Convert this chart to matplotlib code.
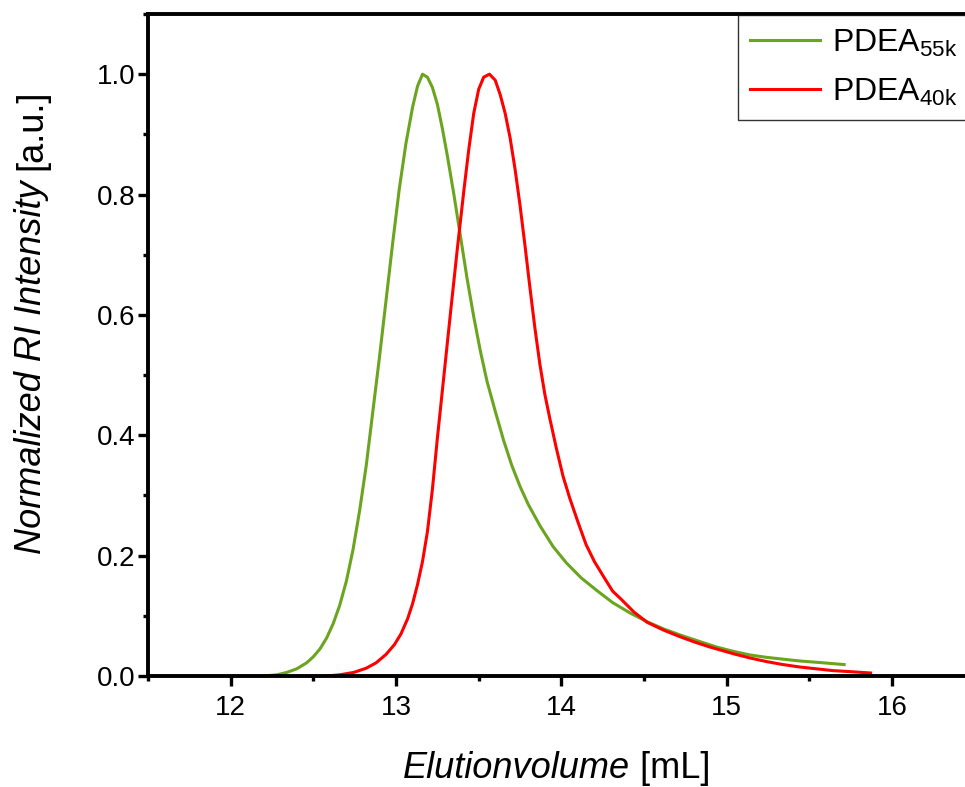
import matplotlib
matplotlib.use("Agg")
import matplotlib.pyplot as plt
from matplotlib.ticker import MultipleLocator
from matplotlib.offsetbox import TextArea, HPacker, VPacker, AnchoredOffsetbox

plt.rcParams['font.family'] = ['Liberation Sans', 'DejaVu Sans']
plt.rcParams['mathtext.fontset'] = 'custom'
plt.rcParams['mathtext.rm'] = 'Liberation Sans'

# elution volume [mL] / normalized RI intensity
v_55k = [12.20, 12.28, 12.34, 12.40, 12.46, 12.50, 12.54, 12.58, 12.62, 12.66,
         12.70, 12.74, 12.78, 12.82, 12.86, 12.90, 12.94, 12.98, 13.02, 13.06,
         13.10, 13.13, 13.16, 13.19, 13.22, 13.25, 13.28, 13.31, 13.35, 13.39,
         13.43, 13.47, 13.51, 13.55, 13.60, 13.65, 13.70, 13.75, 13.80, 13.87,
         13.95, 14.03, 14.12, 14.21, 14.31, 14.42, 14.52, 14.62, 14.73, 14.84,
         14.94, 15.04, 15.14, 15.24, 15.34, 15.44, 15.58, 15.71]
i_55k = [0.000, 0.002, 0.006, 0.012, 0.022, 0.032, 0.045, 0.063, 0.087, 0.118,
         0.158, 0.210, 0.275, 0.350, 0.440, 0.530, 0.625, 0.720, 0.810, 0.885,
         0.945, 0.980, 1.000, 0.995, 0.978, 0.950, 0.910, 0.865, 0.800, 0.730,
         0.660, 0.597, 0.540, 0.490, 0.440, 0.392, 0.350, 0.315, 0.285, 0.250,
         0.215, 0.188, 0.163, 0.143, 0.122, 0.104, 0.090, 0.078, 0.067, 0.057,
         0.048, 0.041, 0.035, 0.031, 0.028, 0.025, 0.022, 0.019]

v_40k = [12.58, 12.66, 12.745, 12.82, 12.88, 12.94, 12.99, 13.03, 13.07, 13.10,
         13.13, 13.16, 13.19, 13.22, 13.25, 13.29, 13.33, 13.37, 13.41, 13.44,
         13.47, 13.50, 13.53, 13.565, 13.60, 13.63, 13.66, 13.69, 13.72, 13.75,
         13.78, 13.81, 13.84, 13.87, 13.90, 13.93, 13.97, 14.01, 14.05, 14.10,
         14.15, 14.20, 14.26, 14.31, 14.36, 14.44, 14.52, 14.62, 14.72, 14.81,
         14.90, 15.04, 15.14, 15.24, 15.34, 15.44, 15.54, 15.64, 15.76, 15.87]
i_40k = [0.000, 0.002, 0.006, 0.013, 0.022, 0.036, 0.052, 0.070, 0.095, 0.120,
         0.152, 0.190, 0.240, 0.310, 0.395, 0.500, 0.605, 0.708, 0.806, 0.875,
         0.935, 0.975, 0.995, 1.000, 0.990, 0.966, 0.935, 0.894, 0.842, 0.782,
         0.715, 0.645, 0.578, 0.518, 0.468, 0.428, 0.378, 0.332, 0.296, 0.256,
         0.218, 0.190, 0.163, 0.141, 0.128, 0.106, 0.089, 0.076, 0.065, 0.056,
         0.048, 0.037, 0.030, 0.024, 0.019, 0.015, 0.012, 0.009, 0.007, 0.005]

fig = plt.figure(figsize=(9.65, 7.87), dpi=100)
# right edge of the axes lies past the image border, as in the original
ax = fig.add_axes([148/965, 1-676/787, (974.75-148)/965, (676-14)/787])

ax.plot(v_55k, i_55k, color='#6ba51f', lw=2.2, label=r'PDEA$_{\mathregular{55k}}$')
ax.plot(v_40k, i_40k, color='#ff0000', lw=2.2, label=r'PDEA$_{\mathregular{40k}}$')

ax.set_xlim(11.5, 16.5)
ax.set_ylim(0, 1.1)
ax.set_xticks([12, 13, 14, 15, 16])
ax.set_yticks([0.0, 0.2, 0.4, 0.6, 0.8, 1.0])
ax.xaxis.set_minor_locator(MultipleLocator(0.5))
ax.yaxis.set_minor_locator(MultipleLocator(0.1))

for s in ax.spines.values():
    s.set_linewidth(2.8)
ax.tick_params(which='major', direction='out', length=7, width=2.4, labelsize=20)
ax.tick_params(which='minor', direction='out', length=3.5, width=2.4)
ax.tick_params(axis='x', which='major', pad=7)
ax.tick_params(axis='y', which='major', pad=2)

# axis labels: italic quantity, upright unit
xa = HPacker(children=[TextArea('Elutionvolume', textprops=dict(fontsize=26, style='italic')),
                       TextArea(' [mL]', textprops=dict(fontsize=26))], pad=0, sep=0)
fig.add_artist(AnchoredOffsetbox(loc='center', child=xa, frameon=False, pad=0, borderpad=0,
                                 bbox_to_anchor=(557/965, 1-768/787),
                                 bbox_transform=fig.transFigure))

ya = VPacker(children=[TextArea('[a.u.]', textprops=dict(fontsize=26, rotation=90)),
                       TextArea('Normalized RI Intensity ',
                                textprops=dict(fontsize=26, style='italic', rotation=90))],
             pad=0, sep=0, align='center')
fig.add_artist(AnchoredOffsetbox(loc='center', child=ya, frameon=False, pad=0, borderpad=0,
                                 bbox_to_anchor=(32/965, 1-322/787),
                                 bbox_transform=fig.transFigure))

leg = ax.legend(loc='upper left', bbox_to_anchor=(738/965, 1-15/787),
                bbox_transform=fig.transFigure, borderaxespad=0, fontsize=23,
                frameon=True, fancybox=False, edgecolor='black', handlelength=2.2,
                handletextpad=0.35, labelspacing=0.55, borderpad=0.38)
leg.get_frame().set_linewidth(1.0)

fig.savefig('out.png', dpi=100)
